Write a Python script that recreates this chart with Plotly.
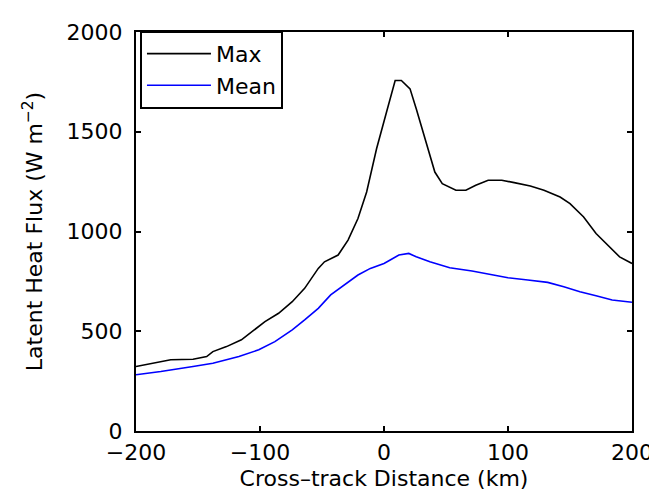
import plotly.graph_objects as go

max_x = [-200, -186, -172, -154, -143, -138, -127, -115, -106, -96, -85, -74, -64, -53, -48, -37, -29, -21, -14, -6,
         2, 9, 14, 21, 26, 33, 41, 47, 58, 66, 74, 84, 95, 105, 118, 129, 142, 150, 161, 171, 182, 190, 200]
max_y = [323, 340, 357, 360, 373, 398, 423, 457, 498, 548, 590, 648, 715, 815, 848, 882, 957, 1065, 1198, 1415,
         1598, 1757, 1757, 1715, 1615, 1465, 1298, 1240, 1207, 1207, 1232, 1257, 1257, 1245, 1228, 1207, 1173, 1140,
         1073, 990, 923, 873, 840]

mean_x = [-200, -180, -154, -138, -117, -101, -88, -74, -64, -53, -43, -32, -21, -11, 0, 5, 12, 20, 26, 37, 53,
          71, 87, 100, 116, 132, 145, 158, 171, 184, 200]
mean_y = [282, 298, 323, 340, 373, 407, 448, 507, 557, 615, 682, 732, 782, 815, 840, 857, 882, 890, 873, 848, 818,
          802, 782, 768, 757, 745, 723, 698, 678, 657, 645]

x_ticks = [-200, -100, 0, 100, 200]
y_ticks = [0, 500, 1000, 1500, 2000]

FONT = "DejaVu Sans, Verdana, sans-serif"

fig = go.Figure()
fig.add_trace(go.Scatter(x=max_x, y=max_y, mode="lines", name="Max",
                         line=dict(color="black", width=1.6)))
fig.add_trace(go.Scatter(x=mean_x, y=mean_y, mode="lines", name="Mean",
                         line=dict(color="#0000ff", width=1.6)))

axis_common = dict(showgrid=False, zeroline=False, showline=True, linecolor="black", linewidth=2,
                   mirror="ticks", ticks="inside", ticklen=5, tickwidth=1.5, tickcolor="black",
                   tickfont=dict(family=FONT, size=22, color="black"))

fig.update_layout(
    width=657, height=495,
    margin=dict(l=128, r=24, t=23, b=72),
    paper_bgcolor="white", plot_bgcolor="white",
    font=dict(family=FONT, size=21, color="black"),
    xaxis=dict(range=[-200, 200], tickvals=x_ticks, ticklabelstandoff=1,
               title=dict(text="Cross\u2013track Distance (km)", font=dict(family=FONT, size=22), standoff=6),
               **axis_common),
    yaxis=dict(range=[0, 2000], tickvals=y_ticks, ticklabelstandoff=7,
               title=dict(text="Latent Heat Flux (W m<sup>\u22122</sup>)", font=dict(family=FONT, size=22), standoff=18),
               **axis_common),
    legend=dict(x=0.008, y=1.003, xanchor="left", yanchor="top", bgcolor="white",
                bordercolor="black", borderwidth=2, font=dict(family=FONT, size=22),
                itemwidth=64, entrywidth=150, tracegroupgap=0),
    showlegend=True,
)

fig.write_html("out.html")
